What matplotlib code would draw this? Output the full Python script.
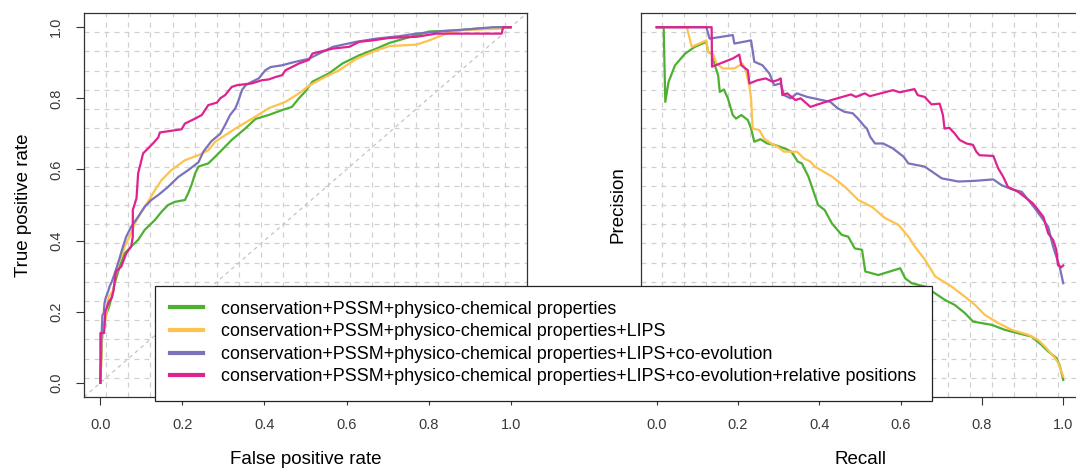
import numpy as np
import matplotlib
matplotlib.use("Agg")
import matplotlib.pyplot as plt
from matplotlib.lines import Line2D

plt.rcParams['font.family'] = ['Liberation Sans', 'DejaVu Sans']

labels = [
    "conservation+PSSM+physico-chemical properties",
    "conservation+PSSM+physico-chemical properties+LIPS",
    "conservation+PSSM+physico-chemical properties+LIPS+co-evolution",
    "conservation+PSSM+physico-chemical properties+LIPS+co-evolution+relative positions",
]
colors = ["#4DB030", "#FEC24E", "#7B72BC", "#DE2290"]

# ROC curves (false positive rate, true positive rate)
fpr_green = [0, 0.004, 0.008, 0.012, 0.02, 0.028, 0.035, 0.047, 0.059, 0.075, 0.092, 0.108, 0.133, 0.149,
             0.165, 0.182, 0.206, 0.214, 0.222, 0.231, 0.239, 0.263, 0.28, 0.304, 0.32, 0.353, 0.378, 0.41,
             0.443, 0.467, 0.484, 0.5, 0.517, 0.557, 0.59, 0.631, 0.673, 0.705, 0.762, 0.802, 0.868, 0.917,
             0.975, 1.0]
tpr_green = [0, 0.13, 0.149, 0.186, 0.21, 0.242, 0.28, 0.327, 0.364, 0.383, 0.402, 0.43, 0.458, 0.481,
             0.5, 0.509, 0.514, 0.533, 0.556, 0.589, 0.608, 0.617, 0.636, 0.664, 0.683, 0.715, 0.742, 0.753,
             0.767, 0.776, 0.8, 0.82, 0.847, 0.87, 0.898, 0.921, 0.94, 0.956, 0.975, 0.988, 0.991, 0.996,
             1.0, 1.0]

fpr_yellow = [0, 0.004, 0.012, 0.016, 0.02, 0.032, 0.036, 0.043, 0.051, 0.059, 0.071, 0.084, 0.1, 0.116,
              0.133, 0.149, 0.173, 0.206, 0.239, 0.263, 0.28, 0.329, 0.37, 0.41, 0.451, 0.484, 0.508, 0.541,
              0.582, 0.624, 0.673, 0.705, 0.77, 0.802, 0.843, 0.884, 0.933, 0.978, 0.99, 1.0]
tpr_yellow = [0, 0.12, 0.177, 0.205, 0.242, 0.261, 0.298, 0.336, 0.355, 0.383, 0.411, 0.448, 0.481, 0.509,
              0.542, 0.57, 0.598, 0.626, 0.64, 0.654, 0.678, 0.715, 0.743, 0.772, 0.79, 0.814, 0.835, 0.856,
              0.879, 0.911, 0.935, 0.947, 0.951, 0.963, 0.982, 0.992, 0.994, 0.996, 1.0, 1.0]

fpr_purple = [0, 0.003, 0.005, 0.008, 0.01, 0.013, 0.02, 0.022, 0.028, 0.035, 0.043, 0.055, 0.063, 0.075,
              0.092, 0.108, 0.124, 0.141, 0.165, 0.19, 0.214, 0.239, 0.251, 0.271, 0.292, 0.304, 0.316,
              0.329, 0.337, 0.345, 0.354, 0.37, 0.386, 0.402, 0.415, 0.443, 0.459, 0.48, 0.508, 0.525,
              0.567, 0.624, 0.673, 0.73, 0.77, 0.835, 0.917, 0.958, 1.0]
tpr_purple = [0, 0.14, 0.19, 0.196, 0.224, 0.239, 0.261, 0.27, 0.285, 0.308, 0.336, 0.383, 0.411, 0.439,
              0.467, 0.495, 0.514, 0.528, 0.551, 0.579, 0.598, 0.62, 0.65, 0.68, 0.7, 0.725, 0.753,
              0.772, 0.795, 0.823, 0.837, 0.847, 0.856, 0.879, 0.888, 0.893, 0.898, 0.904, 0.911, 0.921,
              0.945, 0.959, 0.968, 0.975, 0.982, 0.989, 0.996, 1.0, 1.0]

fpr_magenta = [0, 0, 0.009, 0.012, 0.02, 0.028, 0.032, 0.038, 0.051, 0.063, 0.075, 0.079, 0.079, 0.088,
               0.092, 0.1, 0.104, 0.116, 0.128, 0.141, 0.145, 0.198, 0.206, 0.231, 0.247, 0.263, 0.284,
               0.292, 0.304, 0.32, 0.333, 0.369, 0.394, 0.41, 0.427, 0.443, 0.451, 0.467, 0.484, 0.508,
               0.517, 0.567, 0.607, 0.631, 0.664, 0.705, 0.77, 0.819, 0.978, 0.982, 1.0]
tpr_magenta = [0, 0.14, 0.14, 0.2, 0.227, 0.24, 0.26, 0.313, 0.327, 0.364, 0.383, 0.411, 0.486, 0.519,
               0.589, 0.626, 0.645, 0.659, 0.673, 0.69, 0.704, 0.713, 0.729, 0.743, 0.753, 0.781, 0.788,
               0.8, 0.809, 0.832, 0.837, 0.842, 0.851, 0.853, 0.86, 0.865, 0.879, 0.888, 0.898, 0.908,
               0.926, 0.94, 0.945, 0.959, 0.963, 0.97, 0.973, 0.982, 0.982, 1.0, 1.0]

# precision-recall curves
rec_green = [0, 0.017, 0.021, 0.029, 0.045, 0.07, 0.094, 0.122, 0.126, 0.135, 0.143, 0.151, 0.155, 0.165,
             0.175, 0.187, 0.195, 0.208, 0.224, 0.232, 0.24, 0.255, 0.272, 0.29, 0.315, 0.331, 0.347,
             0.357, 0.373, 0.397, 0.413, 0.431, 0.455, 0.471, 0.487, 0.505, 0.513, 0.545, 0.599, 0.611,
             0.627, 0.659, 0.684, 0.709, 0.733, 0.758, 0.778, 0.824, 0.856, 0.89, 0.922, 0.946, 0.963,
             0.984, 0.992, 1.0]
prec_green = [1.0, 1.0, 0.79, 0.846, 0.893, 0.926, 0.945, 0.959, 0.931, 0.926, 0.893, 0.865, 0.818, 0.825,
              0.8, 0.753, 0.743, 0.753, 0.739, 0.715, 0.678, 0.685, 0.673, 0.669, 0.659, 0.65, 0.622,
              0.617, 0.58, 0.5, 0.486, 0.448, 0.416, 0.411, 0.378, 0.374, 0.313, 0.303, 0.322, 0.294,
              0.28, 0.271, 0.252, 0.233, 0.219, 0.196, 0.172, 0.163, 0.149, 0.139, 0.13, 0.107, 0.088,
              0.069, 0.046, 0.008]

rec_yellow = [0, 0.074, 0.086, 0.1, 0.122, 0.126, 0.138, 0.147, 0.163, 0.191, 0.211, 0.22, 0.228, 0.232,
              0.236, 0.252, 0.264, 0.281, 0.297, 0.313, 0.345, 0.362, 0.378, 0.389, 0.431, 0.463, 0.496,
              0.529, 0.562, 0.595, 0.619, 0.635, 0.66, 0.685, 0.725, 0.758, 0.783, 0.807, 0.84, 0.873,
              0.914, 0.938, 0.955, 0.98, 0.988, 1.0]
prec_yellow = [1.0, 1.0, 0.945, 0.952, 0.963, 0.931, 0.926, 0.898, 0.884, 0.884, 0.898, 0.874, 0.833, 0.8,
               0.715, 0.711, 0.687, 0.673, 0.664, 0.65, 0.65, 0.631, 0.622, 0.608, 0.58, 0.551, 0.514,
               0.495, 0.463, 0.444, 0.411, 0.383, 0.346, 0.299, 0.271, 0.242, 0.219, 0.191, 0.168, 0.149,
               0.135, 0.121, 0.102, 0.069, 0.055, 0.018]

rec_purple = [0, 0.122, 0.13, 0.159, 0.187, 0.191, 0.232, 0.24, 0.26, 0.277, 0.289, 0.305, 0.313, 0.329,
              0.345, 0.37, 0.427, 0.445, 0.462, 0.482, 0.495, 0.512, 0.517, 0.525, 0.537, 0.557, 0.581,
              0.607, 0.619, 0.659, 0.677, 0.701, 0.742, 0.783, 0.828, 0.848, 0.874, 0.898, 0.914, 0.93,
              0.951, 0.963, 0.975, 0.991, 1.0]
prec_purple = [1.0, 1.0, 0.968, 0.973, 0.978, 0.954, 0.963, 0.903, 0.893, 0.87, 0.837, 0.842, 0.809, 0.8,
               0.814, 0.804, 0.79, 0.772, 0.762, 0.758, 0.743, 0.72, 0.715, 0.692, 0.673, 0.673, 0.659,
               0.636, 0.617, 0.608, 0.594, 0.575, 0.566, 0.568, 0.572, 0.556, 0.544, 0.537, 0.514, 0.491,
               0.458, 0.439, 0.383, 0.327, 0.28]

rec_magenta = [0, 0.135, 0.136, 0.167, 0.187, 0.203, 0.208, 0.224, 0.228, 0.248, 0.268, 0.284, 0.297,
               0.305, 0.309, 0.321, 0.341, 0.354, 0.378, 0.429, 0.478, 0.49, 0.512, 0.524, 0.581, 0.598,
               0.634, 0.642, 0.659, 0.676, 0.696, 0.704, 0.708, 0.72, 0.733, 0.745, 0.762, 0.778, 0.786,
               0.794, 0.828, 0.84, 0.852, 0.864, 0.889, 0.905, 0.925, 0.938, 0.951, 0.963, 0.975, 0.983,
               0.987, 0.995, 1.0]
prec_magenta = [1.0, 1.0, 0.889, 0.903, 0.912, 0.923, 0.893, 0.879, 0.842, 0.851, 0.856, 0.847, 0.851,
                0.856, 0.809, 0.814, 0.795, 0.8, 0.776, 0.795, 0.811, 0.804, 0.814, 0.806, 0.823, 0.817,
                0.826, 0.809, 0.804, 0.783, 0.785, 0.753, 0.715, 0.717, 0.701, 0.683, 0.673, 0.669, 0.65,
                0.64, 0.638, 0.603, 0.58, 0.551, 0.537, 0.523, 0.505, 0.486, 0.467, 0.42, 0.402, 0.374,
                0.331, 0.325, 0.33]

roc = [(fpr_green, tpr_green), (fpr_yellow, tpr_yellow), (fpr_purple, tpr_purple), (fpr_magenta, tpr_magenta)]
pr = [(rec_green, prec_green), (rec_yellow, prec_yellow), (rec_purple, prec_purple), (rec_magenta, prec_magenta)]

W, H = 1076, 470
fig = plt.figure(figsize=(W / 100, H / 100), dpi=100)
ax1 = fig.add_axes([84 / W, 73 / H, 443 / W, 384 / H])
ax2 = fig.add_axes([640.5 / W, 73 / H, 439 / W, 384 / H])

lim = (-0.04, 1.04)
grid_pos = [lim[0] + k * (lim[1] - lim[0]) / 20 for k in range(1, 20)]


def setup(ax):
    ax.set_xlim(lim)
    ax.set_ylim(lim)
    for g in grid_pos:
        ax.axvline(g, color="#d0d0d0", lw=0.9, ls=(0, (4, 4)), zorder=0)
        ax.axhline(g, color="#d0d0d0", lw=0.9, ls=(0, (4, 4)), zorder=0)
    for s in ax.spines.values():
        s.set_color("#333333")
        s.set_linewidth(0.9)
    ax.set_xticks(np.arange(0, 1.01, 0.2))
    ax.set_xticklabels(["0.0", "0.2", "0.4", "0.6", "0.8", "1.0"])
    ax.tick_params(axis="x", length=6, width=0.8, color="#333333", pad=9,
                   labelsize=10.5, labelcolor="#3a3a3a")


setup(ax1)
ax1.plot([-0.04, 1.04], [-0.04, 1.04], color="#c4c4c4", lw=0.9, ls=(0, (3, 3)), zorder=1)
for (x, y), c in zip(roc, colors):
    ax1.plot(x, y, color=c, lw=1.6, zorder=2)
ax1.set_yticks(np.arange(0, 1.01, 0.2))
ax1.set_yticklabels(["0.0", "0.2", "0.4", "0.6", "0.8", "1.0"], rotation=90, va="center")
ax1.tick_params(axis="y", length=6, width=0.8, color="#333333", pad=9,
                labelsize=10.5, labelcolor="#3a3a3a")
ax1.set_xlabel("False positive rate", fontsize=13.5, labelpad=14)
ax1.set_ylabel("True positive rate", fontsize=13.5, labelpad=12)

setup(ax2)
for (x, y), c in zip(pr, colors):
    ax2.plot(x, y, color=c, lw=1.6, zorder=2)
ax2.set_yticks([])
ax2.set_xlabel("Recall", fontsize=13.5, labelpad=14)
ax2.set_ylabel("Precision", fontsize=13.5, labelpad=10)

handles = [Line2D([], [], color=c, lw=3) for c in colors]
leg = fig.legend(handles, labels, loc="upper left", bbox_to_anchor=(155 / W, 1 - 285.5 / H),
                 fontsize=12.9, frameon=True, fancybox=False, framealpha=1,
                 edgecolor="#222222", handlelength=1.85, handletextpad=1.0,
                 labelspacing=0.31, borderpad=0.85, borderaxespad=0)
leg.get_frame().set_linewidth(0.9)

fig.savefig("out.png", dpi=100)
